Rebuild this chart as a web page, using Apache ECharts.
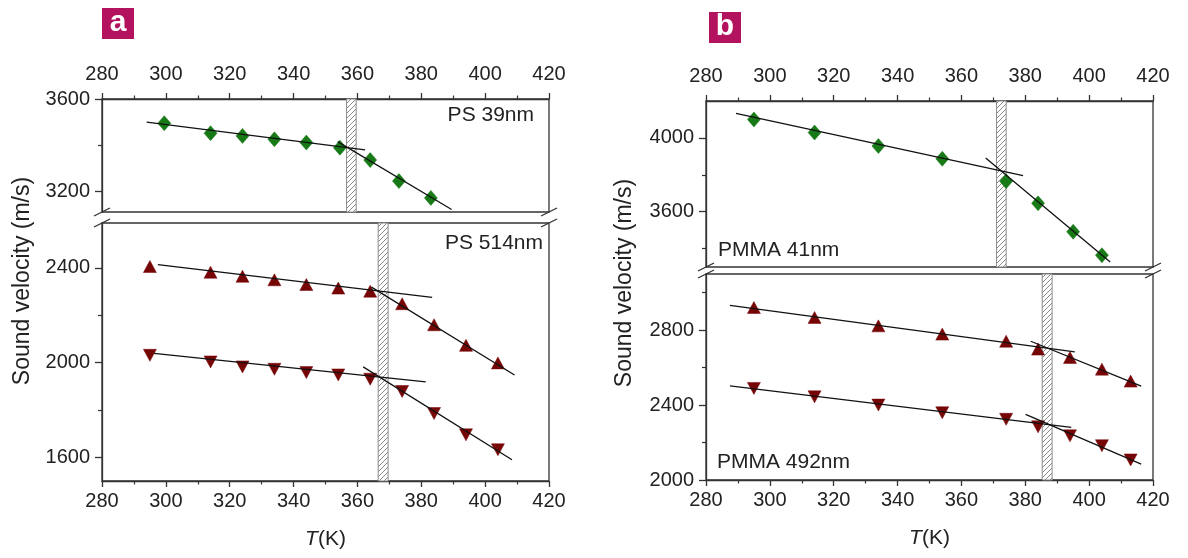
<!DOCTYPE html>
<html>
<head>
<meta charset="utf-8">
<script src="https://cdn.jsdelivr.net/npm/echarts@6/dist/echarts.min.js"></script>
<style>
html, body { margin: 0; padding: 0; background: #fff; }
#main { width: 1188px; height: 558px; }
</style>
</head>
<body>
<div id="main"></div>
<script>
// temperature axis (K)
var tempRange = [280, 420];
var tempStep = 20;

// (a) PS 39nm - green diamonds
var psThinT = [299.5, 314, 324, 334, 344, 354.5, 364, 373, 383];
var psThinV = [3495, 3452, 3440, 3425, 3411, 3389, 3335, 3244, 3171];
var psThinFitGlass = [[294, 3500], [362.4, 3379]];
var psThinFitMelt = [[353.8, 3415], [389.5, 3121]];
var psThinTg = [356.6, 359.6];

// (a) PS 514nm - triangles up / down
var psThickT = [295, 314, 324, 334, 344, 354, 364, 374, 384, 394, 404];
var psThickUp = [2406, 2382, 2365, 2350, 2330, 2315, 2302, 2249, 2160, 2073, 1999];
var psThickDown = [2031, 2003, 1982, 1972, 1958, 1948, 1930, 1878, 1785, 1695, 1632];
var psThickUpFitGlass = [[297.5, 2414], [383.4, 2276]];
var psThickUpFitMelt = [[364.4, 2319], [409.2, 1948]];
var psThickDownFitGlass = [[296.3, 2039], [381.4, 1919]];
var psThickDownFitMelt = [[361.8, 1982], [408.4, 1590]];
var psThickTg = [366.5, 369.6];

// (b) PMMA 41nm
var pmmaThinT = [295, 314, 334, 354, 374, 384, 395, 404];
var pmmaThinV = [4100, 4029, 3956, 3887, 3765, 3645, 3491, 3364];
var pmmaThinFitGlass = [[289.4, 4133], [379.3, 3796]];
var pmmaThinFitMelt = [[367.6, 3891], [406.6, 3327]];
var pmmaThinTg = [371, 374];

// (b) PMMA 492nm
var pmmaThickT = [295, 314, 334, 354, 374, 384, 394, 404, 413];
var pmmaThickUp = [2921, 2868, 2823, 2779, 2741, 2699, 2654, 2592, 2528];
var pmmaThickDown = [2489, 2444, 2400, 2359, 2324, 2284, 2236, 2183, 2107];
var pmmaThickUpFitGlass = [[287.5, 2933], [395.5, 2684]];
var pmmaThickUpFitMelt = [[381.7, 2741], [416.3, 2501]];
var pmmaThickDownFitGlass = [[287.5, 2503], [394.4, 2281]];
var pmmaThickDownFitMelt = [[380.1, 2350], [416.3, 2085]];
var pmmaThickTg = [385.3, 388.4];

// broken y axes: ranges, labelled ticks, minor ticks
var aTopRange = [3110, 3600], aTopTicks = [3200, 3600], aTopMinor = [3400];
var aBotRange = [1500, 2590], aBotTicks = [1600, 2000, 2400], aBotMinor = [1800, 2200];
var bTopRange = [3300, 4200], bTopTicks = [3600, 4000], bTopMinor = [3400, 3800];
var bBotRange = [2000, 3100], bBotTicks = [2000, 2400, 2800], bBotMinor = [2200, 2600, 3000];

var green = '#177a17';
var darkRed = '#760606';
var axisColor = '#333';
var textColor = '#222';
var font = '"Liberation Sans", Arial, sans-serif';

var grids = [
    {left: 102, top: 99, width: 447, height: 113},
    {left: 102, top: 223, width: 447, height: 258},
    {left: 706, top: 101, width: 447, height: 166},
    {left: 706, top: 274, width: 447, height: 206}
];

function zip(xs, ys) {
    var out = [];
    for (var i = 0; i < xs.length; i++) out.push([xs[i], ys[i]]);
    return out;
}

function plain(v) { return String(v); }

// hatch pattern for the Tg bands
var hatch = document.createElement('canvas');
hatch.width = 5; hatch.height = 5;
var hc = hatch.getContext('2d');
hc.fillStyle = '#fff';
hc.fillRect(0, 0, 5, 5);
hc.strokeStyle = '#8a8a8a';
hc.lineWidth = 1;
hc.beginPath();
hc.moveTo(-1, 6); hc.lineTo(6, -1);
hc.moveTo(-1, 1); hc.lineTo(1, -1);
hc.moveTo(4, 6); hc.lineTo(6, 4);
hc.stroke();

function makeX(i, top) {
    return {
        type: 'value', gridIndex: i, min: tempRange[0], max: tempRange[1], interval: tempStep,
        position: top ? 'top' : 'bottom',
        axisLine: {show: true, onZero: false, lineStyle: {color: axisColor, width: 1.3}},
        axisTick: {show: true, inside: false, length: 6, lineStyle: {color: axisColor, width: 1.3}},
        minorTick: {show: true, splitNumber: 2, length: 3.5, lineStyle: {color: axisColor, width: 1.2}},
        axisLabel: {show: true, margin: top ? 15 : 10, fontSize: 20, color: textColor, fontFamily: font, formatter: plain},
        splitLine: {show: false},
        name: top ? '' : '{i|T}(K)',
        nameLocation: 'middle', nameGap: 48,
        nameTextStyle: {fontSize: 21, color: textColor, fontFamily: font,
            rich: {i: {fontSize: 21, fontStyle: 'italic', color: textColor, fontFamily: font}}}
    };
}

function makeY(i, range, ticks) {
    return {
        type: 'value', gridIndex: i, min: range[0], max: range[1], position: 'left',
        axisLine: {show: true, onZero: false, lineStyle: {color: axisColor, width: 1.3}},
        axisTick: {show: true, inside: false, length: 7, customValues: ticks, lineStyle: {color: axisColor, width: 1.3}},
        axisLabel: {show: true, margin: 12, fontSize: 20, color: textColor, fontFamily: font, customValues: ticks, formatter: plain},
        splitLine: {show: false}
    };
}

function makeYMinor(i, range, minor) {
    return {
        type: 'value', gridIndex: i, min: range[0], max: range[1], position: 'left', offset: 0,
        axisLine: {show: false},
        axisTick: {show: true, inside: false, length: 4, customValues: minor, lineStyle: {color: axisColor, width: 1.2}},
        axisLabel: {show: false, customValues: minor},
        splitLine: {show: false}
    };
}

function points(i, xs, ys, symbol, color, size, rotate) {
    return {
        type: 'scatter', xAxisIndex: i, yAxisIndex: 2 * i, data: zip(xs, ys),
        symbol: symbol, symbolSize: size, symbolRotate: rotate || 0, z: 3,
        itemStyle: {color: color, borderColor: color, borderWidth: 0.5, opacity: 1}
    };
}

function fit(i, pts) {
    return {
        type: 'line', xAxisIndex: i, yAxisIndex: 2 * i, data: pts, symbol: 'none', z: 4,
        lineStyle: {color: '#111', width: 1.3}, silent: true
    };
}

function band(i, range) {
    return {
        type: 'scatter', xAxisIndex: i, yAxisIndex: 2 * i, data: [], z: 1,
        markArea: {
            silent: true,
            itemStyle: {color: {image: hatch, repeat: 'repeat'}, borderColor: '#8a8a8a', borderWidth: 1, opacity: 1},
            data: [[{xAxis: range[0]}, {xAxis: range[1]}]]
        }
    };
}

function breakMarks(g1, g2) {
    var y1 = g1.top + g1.height, y2 = g2.top;
    var xs = [g1.left, g1.left + g1.width];
    var out = [];
    xs.forEach(function (x) {
        [y1, y2].forEach(function (y) {
            out.push({type: 'line', z: 10, shape: {x1: x - 8, y1: y + 4, x2: x + 8, y2: y - 4},
                style: {stroke: axisColor, lineWidth: 1.3}});
        });
    });
    return out;
}

function label(text, x, y, align) {
    return {type: 'text', x: x, y: y, z: 10,
        style: {text: text, font: '21px ' + font, fill: textColor,
            textAlign: align, textVerticalAlign: 'middle', align: align, verticalAlign: 'middle'}};
}

function panelTag(text, x, y) {
    return {type: 'group', x: x, y: y, children: [
        {type: 'rect', shape: {x: 0, y: 0, width: 32, height: 31}, style: {fill: '#b3125f'}},
        {type: 'text', style: {text: text, x: 16, y: 15, font: 'bold 30px ' + font, fill: '#fff',
            textAlign: 'center', textVerticalAlign: 'middle', align: 'center', verticalAlign: 'middle'}}
    ]};
}

function yTitle(x, y) {
    return {type: 'text', x: x, y: y, rotation: Math.PI / 2, z: 10,
        style: {text: 'Sound velocity (m/s)', font: '23px ' + font, fill: textColor,
            textAlign: 'center', textVerticalAlign: 'middle', align: 'center', verticalAlign: 'middle'}};
}

var domMain = document.getElementById('main');
var myChart = echarts.init(domMain, null, {renderer: 'canvas'});

var gridOpts = grids.map(function (g) {
    return {left: g.left, top: g.top, width: g.width, height: g.height, containLabel: false,
        show: true, borderColor: axisColor, borderWidth: 1.3, backgroundColor: 'transparent'};
});

var option = {
    animation: false,
    backgroundColor: '#fff',
    grid: gridOpts,
    xAxis: [makeX(0, true), makeX(1, false), makeX(2, true), makeX(3, false)],
    yAxis: [
        makeY(0, aTopRange, aTopTicks), makeYMinor(0, aTopRange, aTopMinor),
        makeY(1, aBotRange, aBotTicks), makeYMinor(1, aBotRange, aBotMinor),
        makeY(2, bTopRange, bTopTicks), makeYMinor(2, bTopRange, bTopMinor),
        makeY(3, bBotRange, bBotTicks), makeYMinor(3, bBotRange, bBotMinor)
    ],
    series: [
        band(0, psThinTg), band(1, psThickTg), band(2, pmmaThinTg), band(3, pmmaThickTg),
        points(0, psThinT, psThinV, 'diamond', green, [13, 15]),
        fit(0, psThinFitGlass), fit(0, psThinFitMelt),
        points(1, psThickT, psThickUp, 'triangle', darkRed, [13, 12]),
        points(1, psThickT, psThickDown, 'triangle', darkRed, [13, 12], 180),
        fit(1, psThickUpFitGlass), fit(1, psThickUpFitMelt),
        fit(1, psThickDownFitGlass), fit(1, psThickDownFitMelt),
        points(2, pmmaThinT, pmmaThinV, 'diamond', green, [13, 15]),
        fit(2, pmmaThinFitGlass), fit(2, pmmaThinFitMelt),
        points(3, pmmaThickT, pmmaThickUp, 'triangle', darkRed, [13, 12]),
        points(3, pmmaThickT, pmmaThickDown, 'triangle', darkRed, [13, 12], 180),
        fit(3, pmmaThickUpFitGlass), fit(3, pmmaThickUpFitMelt),
        fit(3, pmmaThickDownFitGlass), fit(3, pmmaThickDownFitMelt)
    ],
    graphic: [].concat(
        breakMarks(grids[0], grids[1]),
        breakMarks(grids[2], grids[3]),
        [
            label('PS 39nm', 534, 115, 'right'),
            label('PS 514nm', 543, 243, 'right'),
            label('PMMA 41nm', 718, 250, 'left'),
            label('PMMA 492nm', 717, 462, 'left'),
            panelTag('a', 102, 8),
            panelTag('b', 709, 12),
            yTitle(23, 281),
            yTitle(625, 283)
        ]
    )
};

myChart.setOption(option, true);
window.onresize = myChart.resize;
</script>
</body>
</html>
